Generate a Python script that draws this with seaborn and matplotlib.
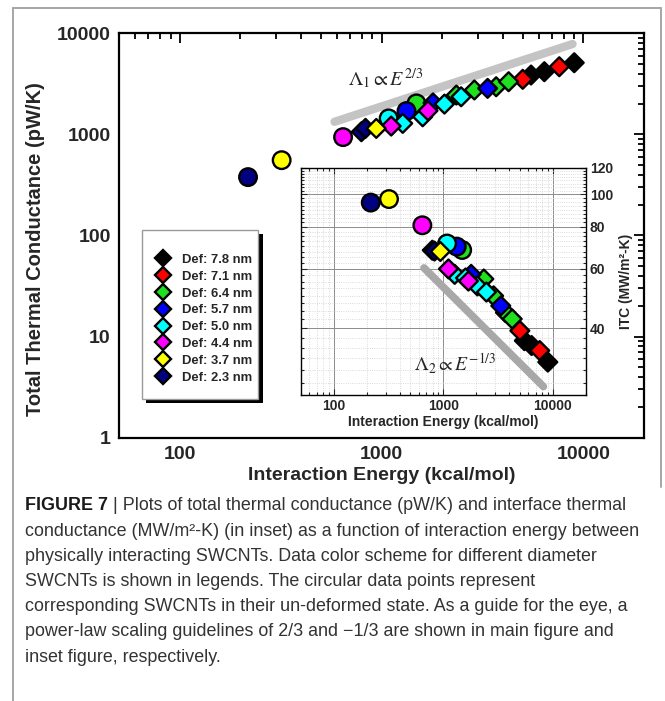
import numpy as np
import pandas as pd
import seaborn as sns
import matplotlib.pyplot as plt
from matplotlib import font_manager
from matplotlib.lines import Line2D
from matplotlib.patches import Rectangle
from matplotlib.ticker import FixedLocator, NullFormatter

# ================= data =================
def_order = ['7.8', '7.1', '6.4', '5.7', '5.0', '4.4', '3.7', '2.3']
def_colors = ['#000000', '#ff0000', '#1fe01f', '#0000ff', '#00ffff', '#ff00ff', '#ffff00', '#000080']
legend_labels = ['Def: 7.8 nm', 'Def: 7.1 nm', 'Def: 6.4 nm', 'Def: 5.7 nm',
                 'Def: 5.0 nm', 'Def: 4.4 nm', 'Def: 3.7 nm', 'Def: 2.3 nm']

# un-deformed SWCNTs (circles)
circ_def = ['6.4', '5.7', '5.0', '4.4', '3.7', '2.3']
circ_energy = [1490, 1330, 1085, 645, 320, 218]
circ_ttc = [2027, 1702, 1440, 940, 556, 378]
circ_itc = [68.3, 69.9, 71.4, 80.9, 96.8, 94.5]

# deformed SWCNTs (diamonds)
dia_def = ['2.3', '2.3', '7.8', '7.8', '7.8', '7.1', '7.1', '6.4', '6.4', '6.4', '6.4', '5.7', '5.7',
           '5.0', '5.0', '5.0', '5.0', '4.4', '4.4', '3.7']
dia_energy = [795, 833, 5510, 6412, 9020, 5011, 7605, 2350, 2886, 3700, 4266, 1800, 3357,
              1274, 1600, 2051, 2481, 1117, 1700, 942]
dia_ttc = [1062, 1148, 3866, 4170, 5115, 3507, 4670, 2449, 2750, 2960, 3320, 2050, 2853,
           1285, 1493, 1995, 2356, 1209, 1713, 1146]
dia_itc = [68.2, 67.8, 36.7, 35.5, 31.7, 39.3, 34.3, 56.0, 49.9, 44.5, 42.6, 57.8, 46.6,
           57.8, 56.4, 53.4, 51.2, 60.0, 55.2, 67.6]

# power-law guide lines
guide1_energy = [585, 8850]
guide1_ttc = [1333, 7832]
guide2_energy = [668, 8220]
guide2_itc = [60.4, 26.8]

main_xticks = [100, 1000, 10000]
main_xticklabels = ['100', '1000', '10000']
main_yticks = [1, 10, 100, 1000, 10000]
main_yticklabels = ['1', '10', '100', '1000', '10000']
inset_yticks = [40, 60, 80, 100, 120]
inset_yticklabels = ['40', '60', '80', '100', '120']

caption_lines = [
    ' | Plots of total thermal conductance (pW/K) and interface thermal',
    'conductance (MW/m\u00b2-K) (in inset) as a function of interaction energy between',
    'physically interacting SWCNTs. Data color scheme for different diameter',
    'SWCNTs is shown in legends. The circular data points represent',
    'corresponding SWCNTs in their un-deformed state. As a guide for the eye, a',
    'power-law scaling guidelines of 2/3 and \u22121/3 are shown in main figure and',
    'inset figure, respectively.',
]

circ_df = pd.DataFrame({'defo': circ_def, 'energy': circ_energy, 'ttc': circ_ttc, 'itc': circ_itc})
dia_df = pd.DataFrame({'defo': dia_def, 'energy': dia_energy, 'ttc': dia_ttc, 'itc': dia_itc})
palette = dict(zip(def_order, def_colors))

# ================= style =================
sns.set_style('white')
plt.rcParams['font.family'] = ['Liberation Sans', 'DejaVu Sans']
plt.rcParams['mathtext.fontset'] = 'stix'

names = {f.name for f in font_manager.fontManager.ttflist}
cap_font = ['Liberation Sans Narrow', 'DejaVu Sans'] if 'Liberation Sans Narrow' in names else ['Liberation Sans', 'DejaVu Sans']
cap_size = 14.5 if 'Liberation Sans Narrow' in names else 12.9

W, H = 665, 701
fig = plt.figure(figsize=(W / 100, H / 100), dpi=100)


def fx(px):
    return px / W


def fy(py):
    return 1 - py / H


CIRC_S = 160
DIA_S = 92

# ================= main axes =================
ax = fig.add_axes([fx(119), fy(437.7), fx(644) - fx(119), fy(33.3) - fy(437.7)])
ax.set_xscale('log')
ax.set_yscale('log')

sns.lineplot(x=guide1_energy, y=guide1_ttc, color='#c4c4c4', lw=6, solid_capstyle='round', ax=ax, zorder=2)
sns.scatterplot(data=circ_df, x='energy', y='ttc', hue='defo', palette=palette, marker='o', s=CIRC_S,
                edgecolor='black', linewidth=1.7, legend=False, ax=ax, zorder=3)
sns.scatterplot(data=dia_df, x='energy', y='ttc', hue='defo', palette=palette, marker='D', s=DIA_S,
                edgecolor='black', linewidth=1.7, legend=False, ax=ax, zorder=3)

ax.set_xlim(50, 20000)
ax.set_ylim(1, 10000)
ax.set_xticks(main_xticks)
ax.set_xticklabels(main_xticklabels, fontweight='bold')
ax.set_yticks(main_yticks)
ax.set_yticklabels(main_yticklabels, fontweight='bold')
ax.xaxis.set_minor_formatter(NullFormatter())
ax.yaxis.set_minor_formatter(NullFormatter())
ax.tick_params(which='both', direction='in', top=True, right=True, width=1.3, color='black')
ax.tick_params(which='major', length=7, labelsize=14, pad=6)
ax.tick_params(which='minor', length=4)
for s in ax.spines.values():
    s.set_linewidth(1.6)
    s.set_color('black')

ax.set_xlabel('Interaction Energy (kcal/mol)', fontsize=14, fontweight='bold', labelpad=3)
ax.set_ylabel('Total Thermal Conductance (pW/K)', fontsize=14.5, fontweight='bold')
ax.yaxis.set_label_coords(-0.141, 0.467)

ax.text(680, 3600, r'$\mathit{Λ}_1 \propto \mathit{E}^{2/3}$', fontsize=14.5,
        ha='left', va='center')

# legend with drop shadow
ax.add_patch(Rectangle((0.0432 + 0.0086, 0.0957 - 0.0111), 0.2216, 0.4179, transform=ax.transAxes,
                       facecolor='black', edgecolor='none', zorder=6))
ax.add_patch(Rectangle((0.0432, 0.0957), 0.2216, 0.4179, transform=ax.transAxes,
                       facecolor='white', edgecolor='#9a9a9a', lw=1.0, zorder=6.5))
handles = [Line2D([], [], marker='D', ls='none', markersize=8.6, markerfacecolor=c,
                  markeredgecolor='black', markeredgewidth=1.7) for c in def_colors]
leg = ax.legend(handles, legend_labels, loc='upper left', bbox_to_anchor=(0.0718, 0.455),
                frameon=False, borderpad=0, borderaxespad=0, handlelength=1.0, handletextpad=0.9,
                labelspacing=0.36, prop={'size': 9.4, 'weight': 'bold'})
leg.set_zorder(7)

# ================= inset =================
axin = fig.add_axes([fx(300.7), fy(395), fx(585.7) - fx(300.7), fy(167.7) - fy(395)])
axin.set_xscale('log')
axin.set_yscale('log')
axin.set_axisbelow(True)

sns.lineplot(x=guide2_energy, y=guide2_itc, color='#a8a8a8', lw=5.5, solid_capstyle='round', ax=axin, zorder=2)
sns.scatterplot(data=circ_df, x='energy', y='itc', hue='defo', palette=palette, marker='o', s=CIRC_S,
                edgecolor='black', linewidth=1.7, legend=False, ax=axin, zorder=3)
sns.scatterplot(data=dia_df, x='energy', y='itc', hue='defo', palette=palette, marker='D', s=DIA_S,
                edgecolor='black', linewidth=1.7, legend=False, ax=axin, zorder=3)

axin.set_xlim(50, 20000)
axin.set_ylim(25.3, 119)
axin.set_xticks(main_xticks)
axin.set_xticklabels(main_xticklabels, fontweight='bold')
axin.set_yticks(inset_yticks)
axin.set_yticklabels(inset_yticklabels, fontweight='bold')
axin.yaxis.set_minor_locator(FixedLocator([v for v in np.arange(27.5, 119, 2.5) if v not in inset_yticks]))
axin.xaxis.set_minor_formatter(NullFormatter())
axin.yaxis.set_minor_formatter(NullFormatter())
axin.yaxis.tick_right()
axin.yaxis.set_label_position('right')
axin.tick_params(which='both', direction='in', top=True, bottom=True, left=True, right=True,
                 labelleft=False, labelright=True, width=0.8)
axin.tick_params(which='major', length=4, labelsize=10, pad=3)
axin.tick_params(which='minor', length=2)
axin.grid(which='major', color='#8c8c8c', lw=0.7, ls='-')
axin.grid(which='minor', color='#cfcfcf', lw=0.6, ls=':')
for s in axin.spines.values():
    s.set_linewidth(1.0)
    s.set_color('black')
axin.set_xlabel('Interaction Energy (kcal/mol)', fontsize=10, fontweight='bold', labelpad=1)
axin.set_ylabel('ITC (MW/m\u00b2-K)', fontsize=10, fontweight='bold', labelpad=4)
axin.text(541, 31.3, r'$\mathit{Λ}_2 \propto \mathit{E}^{-1/3}$', fontsize=14,
          ha='left', va='center')

# ================= frame + caption =================
fc = '#a6a6a6'
fig.add_artist(Line2D([fx(12.7), fx(12.7)], [fy(8), 0], color=fc, lw=1.4))
fig.add_artist(Line2D([fx(12.7), fx(660.7)], [fy(8), fy(8)], color=fc, lw=1.4))
fig.add_artist(Line2D([fx(660.7), fx(660.7)], [fy(8), fy(487)], color=fc, lw=1.4))

cap_y = [506 + 25.2 * i for i in range(len(caption_lines))]
fig.canvas.draw()
renderer = fig.canvas.get_renderer()
t0 = fig.text(fx(25), fy(cap_y[0]), 'FIGURE 7', family=cap_font, fontsize=cap_size,
              fontweight='bold', color='#1a1a1a', va='center')
x_end = fig.transFigure.inverted().transform(t0.get_window_extent(renderer))[1][0]
fig.text(x_end, fy(cap_y[0]), caption_lines[0], family=cap_font, fontsize=cap_size,
         fontweight='normal', color='#333333', va='center')
for line, yy in zip(caption_lines[1:], cap_y[1:]):
    fig.text(fx(25), fy(yy), line, family=cap_font, fontsize=cap_size,
             fontweight='normal', color='#333333', va='center')

fig.savefig('out.png', dpi=100)
